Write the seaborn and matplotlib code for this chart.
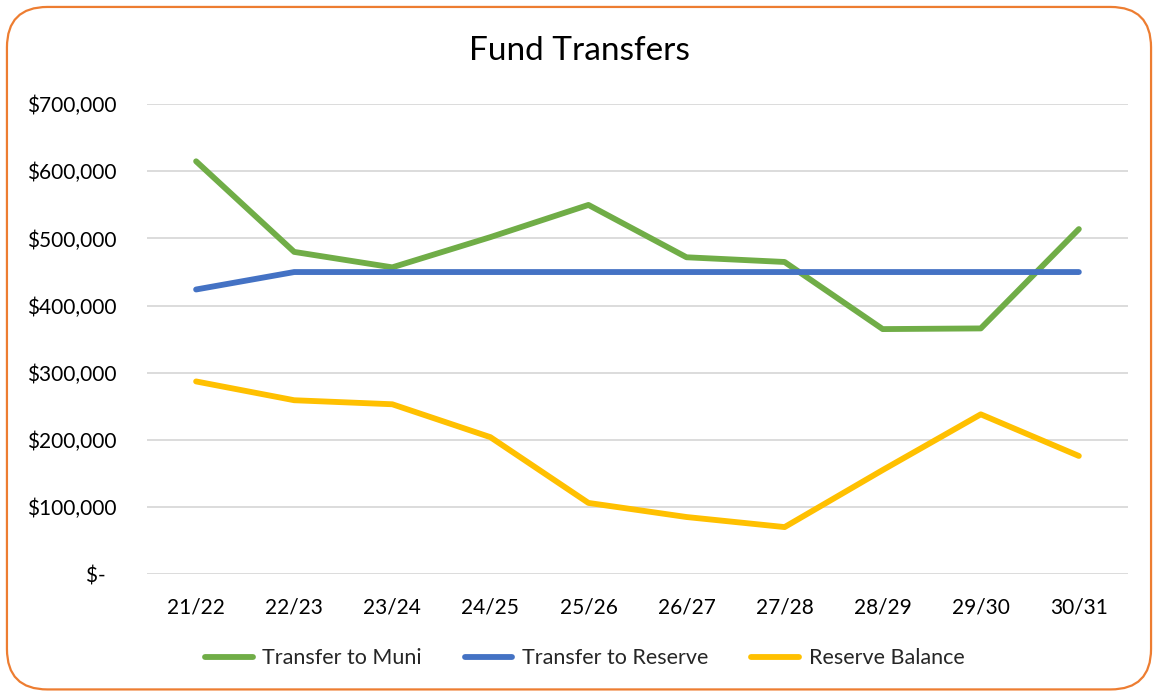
import matplotlib
matplotlib.use("Agg")
import matplotlib.pyplot as plt
import seaborn as sns
import pandas as pd
from matplotlib.patches import FancyBboxPatch
from matplotlib.ticker import FuncFormatter

years = ["21/22", "22/23", "23/24", "24/25", "25/26", "26/27", "27/28", "28/29", "29/30", "30/31"]
transfer_to_muni = [615000, 480000, 457000, 502000, 550000, 472000, 465000, 365000, 366000, 514000]
transfer_to_reserve = [424000, 450000, 450000, 450000, 450000, 450000, 450000, 450000, 450000, 450000]
reserve_balance = [287000, 259000, 253000, 204000, 106000, 85000, 70000, 155000, 238000, 176000]

series_names = ["Transfer to Muni", "Transfer to Reserve", "Reserve Balance"]
colors = ["#70AD47", "#4472C4", "#FFC000"]

df = pd.DataFrame({
    "Year": years * 3,
    "Value": transfer_to_muni + transfer_to_reserve + reserve_balance,
    "Series": [series_names[0]] * len(years) + [series_names[1]] * len(years) + [series_names[2]] * len(years),
})

sns.set_theme(style="white")
plt.rcParams["font.family"] = ["Lato", "DejaVu Sans"]

fig = plt.figure(figsize=(11.58, 6.95), dpi=100)
ax = fig.add_axes([0.127, 0.174, 0.847, 0.676])

sns.lineplot(data=df, x="Year", y="Value", hue="Series", palette=colors,
             hue_order=series_names, linewidth=4.2, sort=False, ax=ax,
             solid_capstyle="round")

ax.set_ylim(0, 700000)
ax.set_xlim(-0.5, len(years) - 0.5)
ax.set_yticks(range(0, 700001, 100000))

def fmt(v, pos):
    if v == 0:
        return "$-  "
    return "${:,.0f}".format(v)

ax.yaxis.set_major_formatter(FuncFormatter(fmt))
ax.grid(axis="y", color="#D9D9D9", linewidth=1.3)
ax.grid(axis="x", visible=False)
for s in ax.spines.values():
    s.set_visible(False)
ax.tick_params(axis="both", length=0, labelsize=15, colors="#000000")
ax.tick_params(axis="y", pad=22)
ax.tick_params(axis="x", pad=17)
ax.set_xlabel("")
ax.set_ylabel("")

fig.text(0.500, 0.927, "Fund Transfers", ha="center", va="center", fontsize=24, color="#000000")

handles, labels = ax.get_legend_handles_labels()
ax.get_legend().remove() if ax.get_legend() else None
leg = fig.legend(handles, labels, loc="center", bbox_to_anchor=(0.505, 0.053),
                 bbox_transform=fig.transFigure, ncol=3, frameon=False,
                 fontsize=15.5, handlelength=2.2, handletextpad=0.45, columnspacing=2.0)
for line in leg.get_lines():
    line.set_linewidth(4.2)
    line.set_solid_capstyle("round")

border = FancyBboxPatch((0.006, 0.008), 0.988, 0.982, transform=fig.transFigure,
                        boxstyle="round,pad=0,rounding_size=0.035",
                        linewidth=1.6, edgecolor="#ED7D31", facecolor="none",
                        mutation_aspect=1158 / 695)
fig.patches.append(border)

fig.savefig("out.png", dpi=100)
